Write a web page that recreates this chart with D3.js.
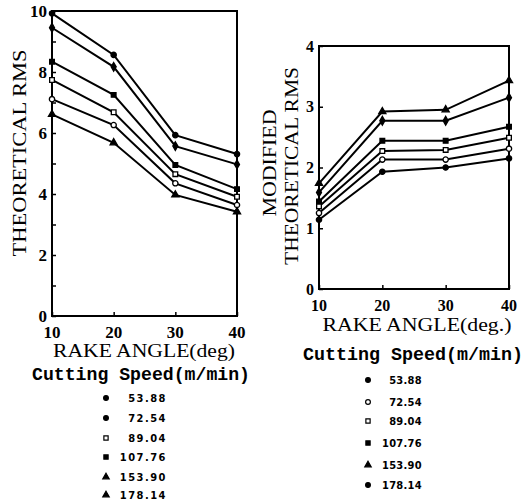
<!DOCTYPE html>
<html>
<head>
<meta charset="utf-8">
<script src="https://cdn.jsdelivr.net/npm/d3@7"></script>
<style>
  body { margin: 0; background: #fff; }
  text { fill: #000; }
  .serif { font-family: "Liberation Serif", "DejaVu Serif", serif; font-weight: bold; }
  .title { font-family: "Liberation Serif", "DejaVu Serif", serif; font-weight: normal; }
  .mono { font-family: "Liberation Mono", "DejaVu Sans Mono", monospace; font-weight: bold; }
  .leg { font-family: "Liberation Sans Narrow", "DejaVu Sans Condensed", "Liberation Sans", sans-serif; font-weight: bold; }
</style>
</head>
<body>
<div id="chart"></div>
<script>
// rake angles (deg) and cutting speeds (m/min)
var rake = [10, 20, 30, 40];
var speeds = ["53.88", "72.54", "89.04", "107.76", "153.90", "178.14"];

// left chart: theoretical RMS, one array per line (top line first)
var theo1 = [9.92, 8.56, 5.93, 5.31];
var theo2 = [9.45, 8.17, 5.57, 4.97];
var theo3 = [8.34, 7.25, 4.95, 4.16];
var theo4 = [7.74, 6.68, 4.65, 3.91];
var theo5 = [7.11, 6.26, 4.35, 3.64];
var theo6 = [6.61, 5.68, 3.97, 3.42];

// right chart: modified theoretical RMS
var mod1 = [1.74, 2.92, 2.95, 3.43];
var mod2 = [1.59, 2.77, 2.77, 3.15];
var mod3 = [1.44, 2.44, 2.44, 2.67];
var mod4 = [1.36, 2.27, 2.29, 2.49];
var mod5 = [1.25, 2.13, 2.13, 2.31];
var mod6 = [1.14, 1.93, 2.00, 2.15];

var theoTicks = [0, 2, 4, 6, 8, 10];
var modTicks = [0, 1, 2, 3, 4];

var svg = d3.select("#chart")
    .append("svg")
    .attr("width", 531)
    .attr("height", 503);

// marker shapes for each series
var shapes = [
    {type: d3.symbolCircle, fill: true},
    {type: d3.symbolCircle, fill: false},
    {type: d3.symbolSquare, fill: false},
    {type: d3.symbolSquare, fill: true},
    {type: d3.symbolTriangle, fill: true},
    {type: d3.symbolDiamond, fill: true}
];
var leftOrder = [0, 5, 3, 2, 1, 4];
var rightOrder = [4, 5, 3, 2, 1, 0];

function drawPanel(series, order, ticks, xr, yr, ymax, minorStep, fs) {
    var x = d3.scaleLinear().domain([10, 40]).range(xr);
    var y = d3.scaleLinear().domain([0, ymax]).range(yr);
    var g = svg.append("g");

    // frame
    g.append("rect")
        .attr("x", xr[0]).attr("y", yr[1])
        .attr("width", xr[1] - xr[0]).attr("height", yr[0] - yr[1])
        .attr("fill", "none").attr("stroke", "#000").attr("stroke-width", 2);

    // inward ticks on left axis
    var yAxis = d3.axisRight(y).tickValues(d3.range(0, ymax + 0.001, minorStep))
        .tickSize(4).tickFormat("");
    g.append("g").attr("transform", "translate(" + xr[0] + ",0)").call(yAxis)
        .call(function(s) { s.select(".domain").remove(); })
        .selectAll("line").attr("stroke-width", 1.5);
    var xAxis = d3.axisTop(x).tickValues(rake).tickSize(4).tickFormat("");
    g.append("g").attr("transform", "translate(0," + yr[0] + ")").call(xAxis)
        .call(function(s) { s.select(".domain").remove(); })
        .selectAll("line").attr("stroke-width", 1.5);

    g.selectAll(".ylab").data(ticks).enter().append("text")
        .attr("class", "serif")
        .attr("x", xr[0] - 5)
        .attr("y", function(d) { return y(d); })
        .attr("dy", "0.35em")
        .attr("text-anchor", "end")
        .attr("font-size", fs)
        .text(function(d) { return d; });

    g.selectAll(".xlab").data(rake).enter().append("text")
        .attr("class", "serif")
        .attr("x", function(d) { return x(d); })
        .attr("y", yr[0] + 16)
        .attr("dy", "0.35em")
        .attr("text-anchor", "middle")
        .attr("font-size", fs)
        .text(function(d) { return d; });

    var line = d3.line()
        .x(function(d, i) { return x(rake[i]); })
        .y(function(d) { return y(d); });

    series.forEach(function(s, k) {
        g.append("path")
            .attr("d", line(s))
            .attr("fill", "none")
            .attr("stroke", "#000")
            .attr("stroke-width", 2);
        var sh = shapes[order[k]];
        g.selectAll(null).data(s).enter().append("path")
            .attr("transform", function(d, i) { return "translate(" + x(rake[i]) + "," + y(d) + ")"; })
            .attr("d", d3.symbol().type(sh.type).size(22))
            .attr("fill", sh.fill ? "#000" : "#fff")
            .attr("stroke", "#000")
            .attr("stroke-width", 1.3);
    });
    return g;
}

drawPanel([theo1, theo2, theo3, theo4, theo5, theo6], leftOrder, theoTicks,
    [52, 237], [316, 11], 10, 1, 17);
drawPanel([mod1, mod2, mod3, mod4, mod5, mod6], rightOrder, modTicks,
    [319, 509], [289, 46], 4, 1, 16);

function label(txt, cx, cy, len, size, cls, rot) {
    var t = svg.append("text")
        .attr("class", cls)
        .attr("x", 0).attr("y", 0)
        .attr("dy", "0.35em")
        .attr("text-anchor", "middle")
        .attr("font-size", size)
        .attr("textLength", len)
        .attr("lengthAdjust", "spacingAndGlyphs")
        .text(txt);
    t.attr("transform", "translate(" + cx + "," + cy + ")" + (rot ? " rotate(-90)" : ""));
}

label("THEORETICAL  RMS", 19, 153, 207, 19, "title", true);
label("RAKE  ANGLE(deg)", 144, 351, 182, 18, "title", false);
label("Cutting Speed(m/min)", 141, 374, 218, 18, "mono", false);

label("MODIFIED", 270, 163, 107, 18, "title", true);
label("THEORETICAL  RMS", 292, 166, 198, 18, "title", true);
label("RAKE  ANGLE(deg.)", 417, 325, 189, 18, "title", false);
label("Cutting Speed(m/min)", 413, 354, 220, 18, "mono", false);

// legends
var legLeftY = [398, 418, 438, 457, 477, 495];
var legRightY = [380, 402, 421, 443, 465, 485];
var legLeftShapes = [0, 0, 2, 3, 4, 4];
var legRightShapes = [0, 1, 2, 3, 4, 0];

function legend(ys, shapeIdx, mx, tx, spacing) {
    var g = svg.append("g");
    var items = g.selectAll("g").data(speeds).enter().append("g")
        .attr("transform", function(d, i) { return "translate(0," + ys[i] + ")"; });
    items.append("path")
        .attr("transform", "translate(" + mx + ",0)")
        .attr("d", function(d, i) { return d3.symbol().type(shapes[shapeIdx[i]].type).size(18)(); })
        .attr("fill", function(d, i) { return shapes[shapeIdx[i]].fill ? "#000" : "#fff"; })
        .attr("stroke", "#000")
        .attr("stroke-width", 1.2);
    items.append("text")
        .attr("class", "leg")
        .attr("x", tx)
        .attr("dy", "0.35em")
        .attr("text-anchor", "end")
        .attr("font-size", 11)
        .attr("letter-spacing", spacing)
        .text(function(d) { return d; });
}

legend(legLeftY, legLeftShapes, 106, 167, 1.5);
legend(legRightY, legRightShapes, 368, 422, 0.3);
</script>
</body>
</html>
